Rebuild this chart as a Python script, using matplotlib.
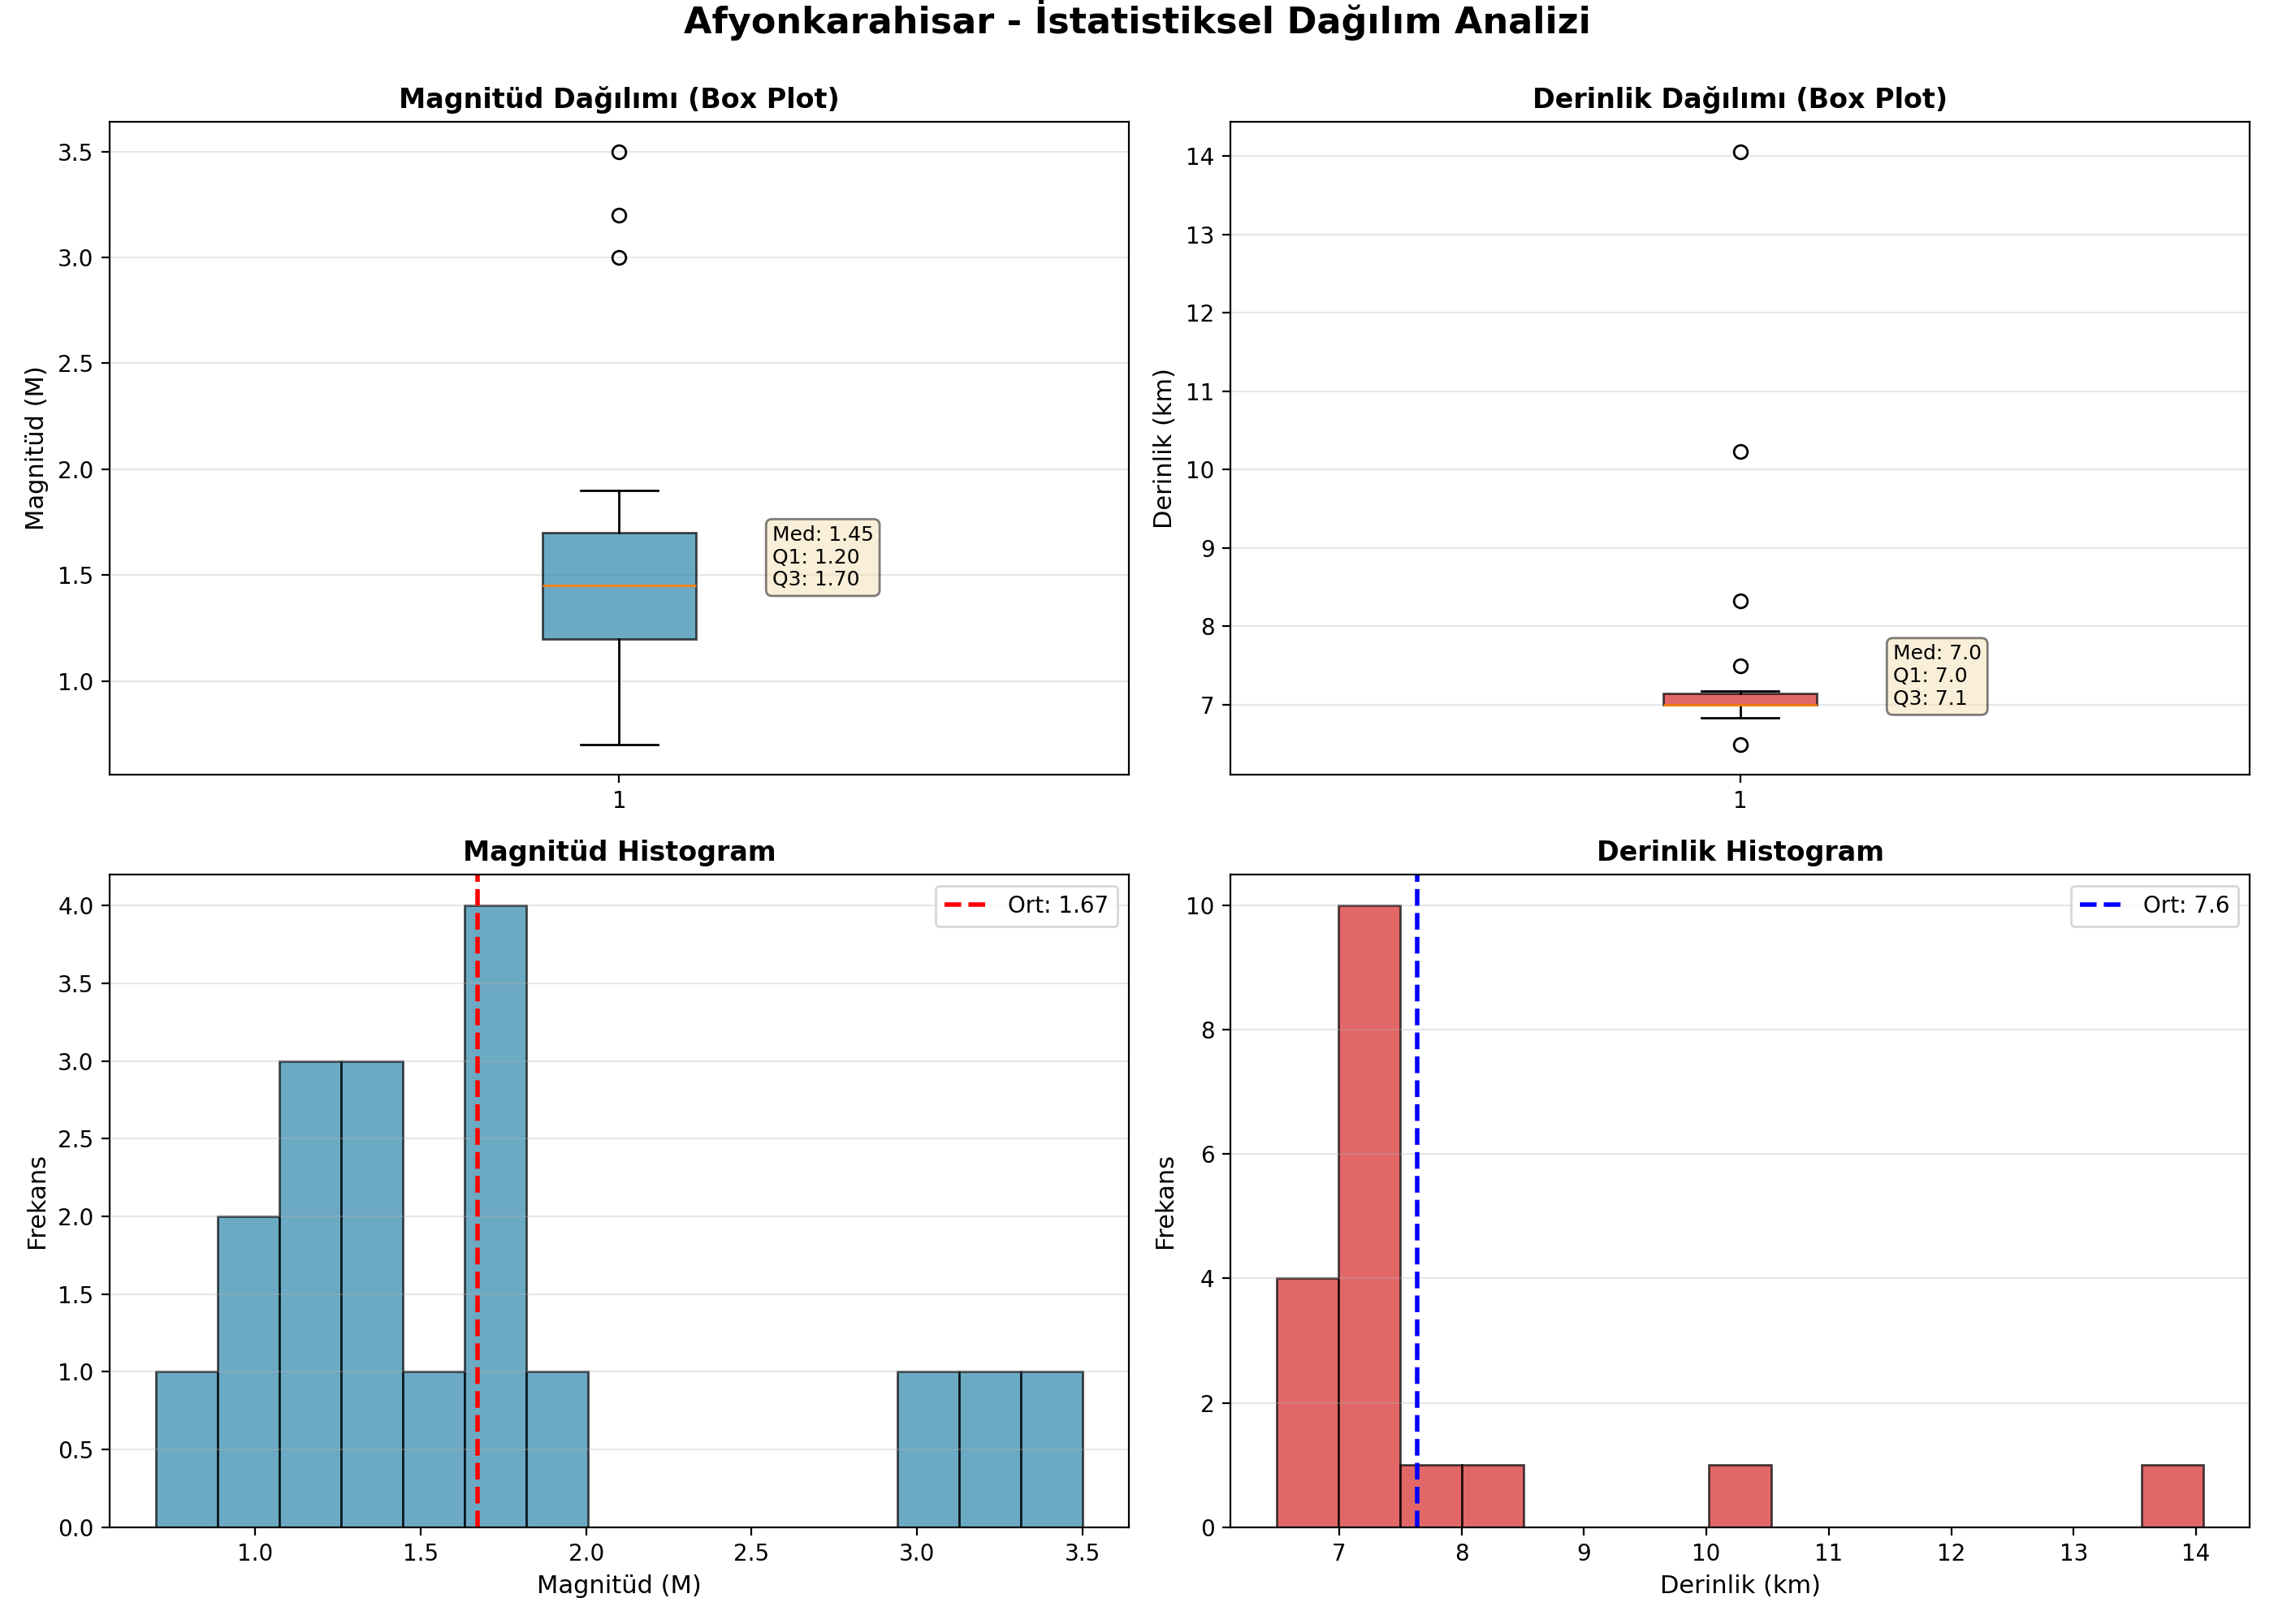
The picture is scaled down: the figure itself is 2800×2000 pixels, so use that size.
import numpy as np
import matplotlib
matplotlib.use("Agg")
import matplotlib.pyplot as plt

# Data
magnitudes = [0.7, 0.9, 1.0, 1.1, 1.2, 1.2, 1.3, 1.4, 1.4, 1.5,
              1.7, 1.7, 1.7, 1.7, 1.9, 3.0, 3.2, 3.5]
depths = [6.49, 6.83, 6.90, 6.95, 7.0, 7.0, 7.0, 7.0, 7.0, 7.0, 7.0, 7.0,
          7.02, 7.18, 7.5, 8.32, 10.23, 14.06]

city = "Afyonkarahisar"
mag_color = "#2E86AB"
dep_color = "#D62828"

mag = np.array(magnitudes)
dep = np.array(depths)

fig, axes = plt.subplots(2, 2, figsize=(14, 10), dpi=200)
fig.suptitle(f"{city} - İstatistiksel Dağılım Analizi", fontsize=16, fontweight="bold", y=1.0005)

# Magnitude box plot
ax = axes[0, 0]
bp = ax.boxplot(mag, patch_artist=True)
for b in bp["boxes"]:
    b.set_facecolor(mag_color)
    b.set_alpha(0.7)
ax.set_title("Magnitüd Dağılımı (Box Plot)", fontsize=12, fontweight="bold")
ax.set_ylabel("Magnitüd (M)", fontsize=11)
ax.grid(True, axis="y", alpha=0.3)
q1, med, q3 = np.percentile(mag, [25, 50, 75])
ax.text(1.15, med, f"Med: {med:.2f}\nQ1: {q1:.2f}\nQ3: {q3:.2f}", fontsize=9,
        bbox=dict(boxstyle="round", facecolor="wheat", alpha=0.5))

# Depth box plot
ax = axes[0, 1]
bp = ax.boxplot(dep, patch_artist=True)
for b in bp["boxes"]:
    b.set_facecolor(dep_color)
    b.set_alpha(0.7)
ax.set_title("Derinlik Dağılımı (Box Plot)", fontsize=12, fontweight="bold")
ax.set_ylabel("Derinlik (km)", fontsize=11)
ax.grid(True, axis="y", alpha=0.3)
q1, med, q3 = np.percentile(dep, [25, 50, 75])
ax.text(1.15, med, f"Med: {med:.1f}\nQ1: {q1:.1f}\nQ3: {q3:.1f}", fontsize=9,
        bbox=dict(boxstyle="round", facecolor="wheat", alpha=0.5))

# Magnitude histogram
ax = axes[1, 0]
ax.hist(mag, bins=15, color=mag_color, edgecolor="black", alpha=0.7)
ax.axvline(mag.mean(), color="red", linestyle="--", linewidth=2, label=f"Ort: {mag.mean():.2f}")
ax.set_title("Magnitüd Histogram", fontsize=12, fontweight="bold")
ax.set_xlabel("Magnitüd (M)", fontsize=11)
ax.set_ylabel("Frekans", fontsize=11)
ax.legend()
ax.grid(True, axis="y", alpha=0.3)

# Depth histogram
ax = axes[1, 1]
ax.hist(dep, bins=15, color=dep_color, edgecolor="black", alpha=0.7)
ax.axvline(dep.mean(), color="blue", linestyle="--", linewidth=2, label=f"Ort: {dep.mean():.1f}")
ax.set_title("Derinlik Histogram", fontsize=12, fontweight="bold")
ax.set_xlabel("Derinlik (km)", fontsize=11)
ax.set_ylabel("Frekans", fontsize=11)
ax.legend()
ax.grid(True, axis="y", alpha=0.3)

fig.subplots_adjust(left=0.0482, right=0.9893, bottom=0.0597, top=0.925,
                    wspace=0.0996, hspace=0.1535)
fig.savefig("out.png", dpi=200)
